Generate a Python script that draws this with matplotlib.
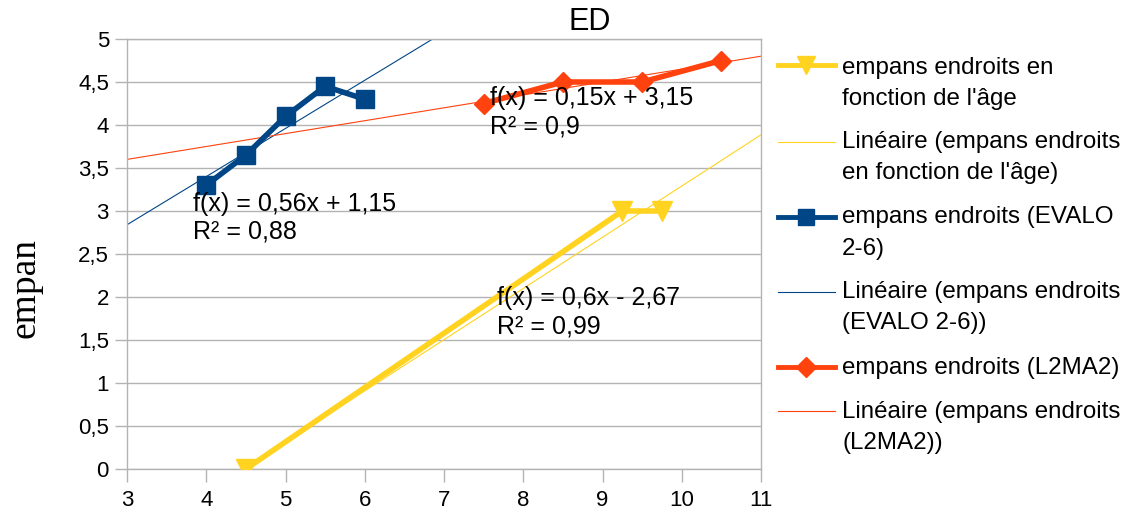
import numpy as np
import matplotlib
matplotlib.use("Agg")
import matplotlib.pyplot as plt
from matplotlib.lines import Line2D

plt.rcParams['font.family'] = ['Liberation Sans', 'DejaVu Sans']

# ---- data ----
age_x = [4.5, 9.25, 9.75]
age_y = [0, 3, 3]
evalo_x = [4, 4.5, 5, 5.5, 6]
evalo_y = [3.3, 3.65, 4.1, 4.45, 4.3]
l2ma2_x = [7.5, 8.5, 9.5, 10.5]
l2ma2_y = [4.25, 4.5, 4.5, 4.75]

x_ticks = [3, 4, 5, 6, 7, 8, 9, 10, 11]
y_ticks = [0, 0.5, 1, 1.5, 2, 2.5, 3, 3.5, 4, 4.5, 5]
y_tick_labels = ["0", "0,5", "1", "1,5", "2", "2,5", "3", "3,5", "4", "4,5", "5"]

labels = [
    "empans endroits en\nfonction de l'âge",
    "Linéaire (empans endroits\nen fonction de l'âge)",
    "empans endroits (EVALO\n2-6)",
    "Linéaire (empans endroits\n(EVALO 2-6))",
    "empans endroits (L2MA2)",
    "Linéaire (empans endroits\n(L2MA2))",
]
eq_texts = [
    "f(x) = 0,6x - 2,67\nR² = 0,99",
    "f(x) = 0,56x + 1,15\nR² = 0,88",
    "f(x) = 0,15x + 3,15\nR² = 0,9",
]

YELLOW = "#FFD320"
BLUE = "#004586"
ORANGE = "#FF420E"
GRID = "#B3B3B3"

W, H = 1127, 520
fig = plt.figure(figsize=(W / 100, H / 100), dpi=100)
ax = fig.add_axes([127 / W, 1 - 469 / H, (761 - 127) / W, (469 - 39) / H])

xmin, xmax = 3, 11
xx = np.linspace(xmin, xmax, 400)

series = [
    (age_x, age_y, YELLOW, 'v', 14),
    (evalo_x, evalo_y, BLUE, 's', 13),
    (l2ma2_x, l2ma2_y, ORANGE, 'D', 10.5),
]
for (sx, sy, c, m, ms) in series:
    k, b = np.polyfit(sx, sy, 1)
    ax.plot(xx, k * xx + b, color=c, lw=0.8, zorder=2)
for (sx, sy, c, m, ms) in series:
    ax.plot(sx, sy, color=c, lw=4, marker=m, ms=ms, zorder=3,
            solid_joinstyle='miter')

ax.set_xlim(xmin, xmax)
ax.set_ylim(0, 5)
ax.set_xticks(x_ticks)
ax.set_xticklabels([str(v) for v in x_ticks])
ax.set_yticks(y_ticks)
ax.set_yticklabels(y_tick_labels)
ax.tick_params(axis='both', colors=GRID, labelcolor='black', labelsize=16,
               length=9, width=1, direction='out')
ax.tick_params(axis='y', pad=4)
ax.tick_params(axis='x', pad=6)
ax.yaxis.grid(True, color=GRID, lw=1)
ax.set_axisbelow(True)
for sp in ax.spines.values():
    sp.set_color(GRID)
    sp.set_linewidth(1)

# equations
eq_pos = [(7.67, 1.826), (3.83, 2.92), (7.58, 4.145)]
for (px, py), t in zip(eq_pos, eq_texts):
    ax.text(px, py, t, fontsize=18, va='center', ha='left',
            linespacing=1.22, zorder=5)

# title
fig.text(590 / W, 1 - 22 / H, "ED", fontsize=22, ha='center', va='center')

# y label
fig.text(25 / W, 1 - 288 / H, "empan", fontsize=27, rotation=90,
         ha='center', va='center', family=['Liberation Serif', 'DejaVu Serif'])

# legend (manual)
handle_specs = [
    (YELLOW, 3.5, 'v', 13, 65),
    (YELLOW, 0.8, None, 0, 142),
    (BLUE, 3.5, 's', 12, 217),
    (BLUE, 0.8, None, 0, 292),
    (ORANGE, 3.5, 'D', 10, 367),
    (ORANGE, 0.8, None, 0, 411),
]
text_first_y = [68, 142, 217, 292, 368, 412]
for (c, lw, m, ms, hy), lab, ty in zip(handle_specs, labels, text_first_y):
    fig.add_artist(Line2D([778 / W, 835 / W], [1 - hy / H, 1 - hy / H],
                          transform=fig.transFigure, color=c, lw=lw))
    if m:
        fig.add_artist(Line2D([806 / W], [1 - hy / H], transform=fig.transFigure,
                              color=c, marker=m, ms=ms, lw=0))
    for i, line in enumerate(lab.split("\n")):
        fig.text(842 / W, 1 - (ty + i * 31.5) / H, line, fontsize=17.4,
                 ha='left', va='center')

fig.savefig("out.png", dpi=100, facecolor='white')
